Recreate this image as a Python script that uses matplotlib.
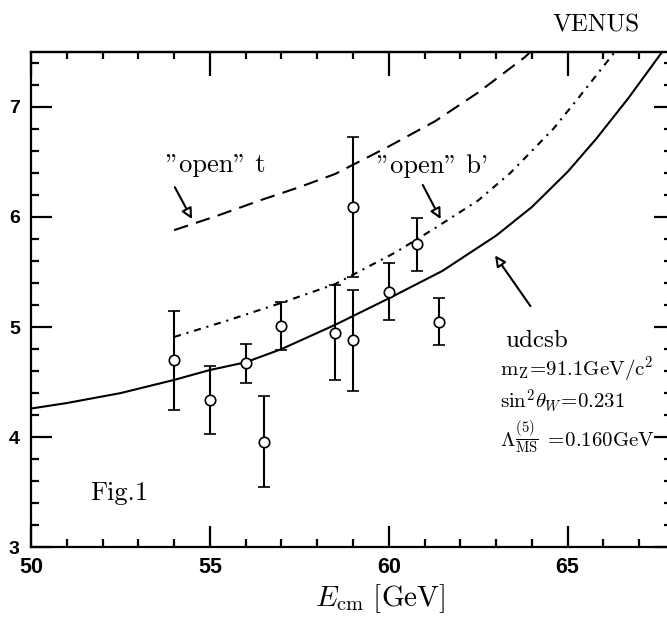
import matplotlib
matplotlib.use("Agg")
import matplotlib.pyplot as plt
from matplotlib.ticker import MultipleLocator

plt.rcParams['mathtext.fontset'] = 'cm'

# VENUS measurements of R
energy = [54.0, 55.0, 56.0, 56.5, 57.0, 58.5, 59.0, 59.0, 60.0, 60.8, 61.4]
ratio = [4.70, 4.34, 4.67, 3.96, 5.01, 4.95, 4.88, 6.09, 5.32, 5.75, 5.05]
ratio_err = [0.45, 0.31, 0.18, 0.41, 0.22, 0.43, 0.46, 0.64, 0.26, 0.24, 0.21]

# standard model prediction, five flavours
e_udcsb = [50.0, 51.0, 52.5, 54.0, 55.0, 56.0, 57.0, 58.5, 60.0, 61.5, 63.0,
           64.0, 65.0, 65.8, 66.7, 67.6, 67.7]
r_udcsb = [4.26, 4.31, 4.40, 4.52, 4.61, 4.68, 4.80, 5.02, 5.26, 5.51, 5.83,
           6.09, 6.41, 6.71, 7.08, 7.48, 7.53]

# with an open top quark
e_open_t = [54.0, 55.2, 56.4, 57.5, 58.5, 60.0, 61.3, 62.5, 63.8, 64.0]
r_open_t = [5.88, 6.01, 6.15, 6.27, 6.39, 6.64, 6.87, 7.13, 7.45, 7.51]

# with an open b' quark
e_open_b = [54.0, 55.5, 57.0, 58.5, 60.2, 61.3, 62.5, 63.4, 64.6, 65.3, 66.2, 66.35]
r_open_b = [4.91, 5.06, 5.22, 5.39, 5.68, 5.90, 6.15, 6.40, 6.80, 7.08, 7.45, 7.51]

fig = plt.figure(figsize=(6.67, 6.24), dpi=100)
ax = fig.add_axes([31 / 667, 0.1229, 644 / 667, 0.7942])

ax.plot(e_udcsb, r_udcsb, color='black', lw=1.5)
ax.plot(e_open_t, r_open_t, color='black', lw=1.5, dashes=(7, 4))
ax.plot(e_open_b, r_open_b, color='black', lw=1.5, dashes=(3.4, 2.8, 1, 2.8))
ax.errorbar(energy, ratio, yerr=ratio_err, fmt='o', ms=7.5, mfc='white',
            mec='black', mew=1.2, ecolor='black', elinewidth=1.5,
            capsize=4.6, capthick=1.5, zorder=3)

ax.set_xlim(50, 68)
ax.set_ylim(3, 7.5)
ax.xaxis.set_major_locator(MultipleLocator(5))
ax.xaxis.set_minor_locator(MultipleLocator(1))
ax.yaxis.set_major_locator(MultipleLocator(1))
ax.yaxis.set_minor_locator(MultipleLocator(0.2))

for s in ax.spines.values():
    s.set_linewidth(1.6)
ax.tick_params(which='both', direction='in', width=1.6, top=False, right=False)
ax.tick_params(which='major', length=15)
ax.tick_params(which='minor', length=5.5)
ax.tick_params(axis='x', pad=7)
ax.tick_params(axis='y', pad=8)
tick_font = ['Liberation Sans Narrow', 'Liberation Sans']
for lab in ax.get_xticklabels():
    lab.set_fontfamily(tick_font)
    lab.set_fontweight('bold')
    lab.set_fontsize(15.5)
for lab in ax.get_yticklabels():
    lab.set_fontfamily(tick_font)
    lab.set_fontweight('bold')
    lab.set_fontsize(14)

# separate tick sets for the top and right frame
top = ax.secondary_xaxis('top')
top.xaxis.set_major_locator(MultipleLocator(5))
top.xaxis.set_minor_locator(MultipleLocator(1))
top.tick_params(which='both', direction='in', width=1.6, labeltop=False)
top.tick_params(which='major', length=17)
top.tick_params(which='minor', length=5)
top.spines['top'].set_linewidth(1.6)

right = ax.secondary_yaxis('right')
right.yaxis.set_major_locator(MultipleLocator(1))
right.yaxis.set_minor_locator(MultipleLocator(0.2))
right.tick_params(which='both', direction='in', width=1.6, labelright=False)
right.tick_params(which='major', length=15)
right.tick_params(which='minor', length=8)

fig.text(380 / 667, (624 - 606) / 624, r'$E_{\rm cm}\ [\mathrm{GeV}]$',
         fontsize=21, ha='center', va='baseline')
fig.text(640 / 667, (624 - 32) / 624, 'VENUS', ha='right', va='baseline',
         fontsize=18, family='cmr10')

# labels and arrows
ax.text(53.77, 6.41, '"open" t', fontsize=19, family='cmr10', va='baseline')
ax.text(59.68, 6.40, "\"open\" b'", fontsize=19, family='cmr10', va='baseline')
arrow = dict(arrowstyle='-|>', color='black', lw=1.5, mutation_scale=16,
             fc='white', shrinkA=0, shrinkB=0)
ax.annotate('', xy=(54.50, 5.98), xytext=(54.02, 6.27), arrowprops=arrow)
ax.annotate('', xy=(61.45, 5.98), xytext=(60.95, 6.29), arrowprops=arrow)
ax.annotate('', xy=(62.97, 5.65), xytext=(63.96, 5.19), arrowprops=arrow)

ax.text(63.25, 4.82, 'udcsb', fontsize=18, family='cmr10', va='baseline')
ax.text(63.1, 4.56, r'$\mathrm{m_Z\!=\!91.1GeV/c^2}$', fontsize=15, va='baseline')
ax.text(63.1, 4.26, r'$\sin^2\!\theta_W\!=\!0.231$', fontsize=15, va='baseline')
ax.text(63.1, 3.91, r'$\Lambda^{(5)}_{\overline{\rm MS}}\ \mathrm{=\!0.160GeV}$',
        fontsize=15, va='baseline')
ax.text(51.66, 3.43, 'Fig.1', fontsize=19, family='cmr10', va='baseline')

fig.savefig('out.png', dpi=100)
